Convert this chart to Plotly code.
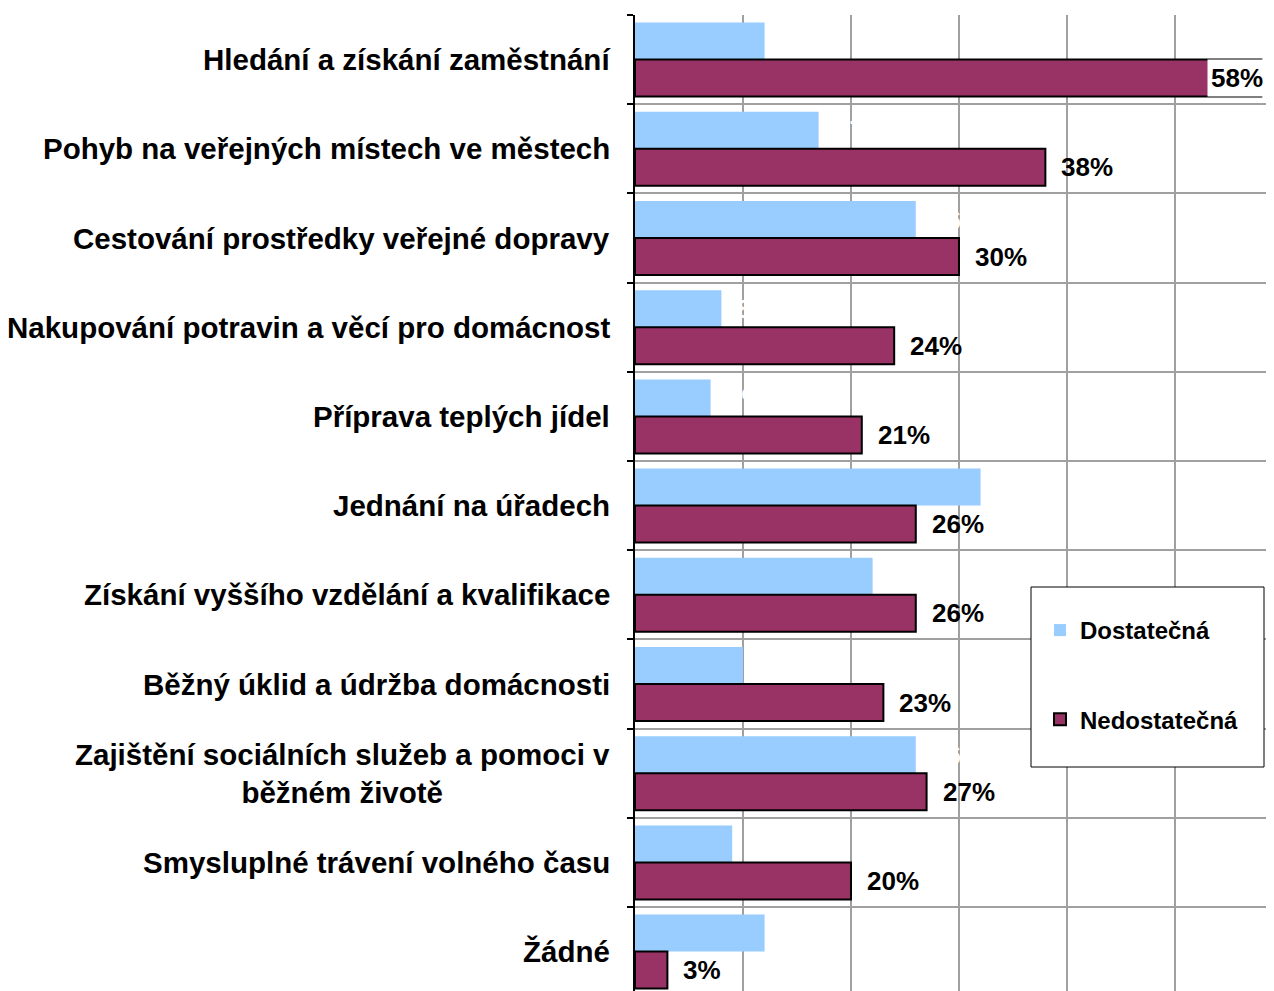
import plotly.graph_objects as go

categories = [
    "Hledání a získání zaměstnání",
    "Pohyb na veřejných místech ve městech",
    "Cestování prostředky veřejné dopravy",
    "Nakupování potravin a věcí pro domácnost",
    "Příprava teplých jídel",
    "Jednání na úřadech",
    "Získání vyššího vzdělání a kvalifikace",
    "Běžný úklid a údržba domácnosti",
    "Zajištění sociálních služeb a pomoci v<br>běžném životě",
    "Smysluplné trávení volného času",
    "Žádné",
]
dostatecna = [12, 17, 26, 8, 7, 32, 22, 10, 26, 9, 12]
nedostatecna = [58, 38, 30, 24, 21, 26, 26, 23, 27, 20, 3]
series_names = ["Dostatečná", "Nedostatečná"]

OFF = 8  # default page body margin
W, H = 1274, 991          # screen size
VIS_R = 1266              # right edge of the visible page area
L, T = 635, 15            # plot area origin on screen
X_MAX = 59.17
BAND = 89.2
Y_BOTTOM = -0.5 + (H - T) / BAND
FONT = "Liberation Sans, Arial, sans-serif"
BLUE = "#99CCFF"
PURPLE = "#993366"

fig = go.Figure()
fig.add_trace(go.Bar(
    y=categories, x=dostatecna, orientation="h", name=series_names[0],
    marker=dict(color=BLUE, line=dict(width=0)), legendgroup="a",
))
fig.add_trace(go.Bar(
    y=categories, x=nedostatecna, orientation="h", name=series_names[1],
    marker=dict(color=PURPLE, line=dict(width=2, color="black")), legendgroup="b",
))

annotations = []
for c in categories:
    annotations.append(dict(
        xref="paper", x=0, yref="y", y=c, xanchor="right", xshift=-23,
        text=c, showarrow=False, align="center",
        font=dict(family=FONT, size=29.5, color="black", weight="bold"),
    ))

plot_w = W - L
plot_h = H - T
px_per_unit = plot_w / X_MAX
label_w = 52
for c, v in zip(categories, dostatecna):
    annotations.append(dict(
        x=v, y=c, xanchor="left", xshift=14, yshift=18.5, text=f"{v}%",
        showarrow=False,
        font=dict(family=FONT, size=26, color="white", weight="bold"),
    ))
for c, v in zip(categories, nedostatecna):
    if L + v * px_per_unit + 14 + label_w > VIS_R:
        annotations.append(dict(
            xref="paper", x=(VIS_R - L) / plot_w, y=c, xanchor="right", xshift=1,
            yshift=-18.5, text=f"{v}%", showarrow=False, bgcolor="white", borderpad=3,
            font=dict(family=FONT, size=26, color="black", weight="bold"),
        ))
    else:
        annotations.append(dict(
            x=v, y=c, xanchor="left", xshift=14, yshift=-18.5, text=f"{v}%",
            showarrow=False,
            font=dict(family=FONT, size=26, color="black", weight="bold"),
        ))

lx0, lx1 = (1031 - L) / plot_w, (VIS_R - 2 - L) / plot_w
ly0, ly1 = (H - 767) / plot_h, (H - 587) / plot_h

fig.update_layout(
    width=W - OFF, height=H - OFF,
    margin=dict(l=L - OFF, r=0, t=T - OFF, b=0, pad=0),
    paper_bgcolor="white", plot_bgcolor="white",
    barmode="group", bargap=0.17, bargroupgap=0,
    showlegend=True,
    legend=dict(
        x=(1040 - L) / plot_w, y=(H - 608) / plot_h, xanchor="left", yanchor="top",
        bgcolor="rgba(0,0,0,0)", borderwidth=0, tracegroupgap=55,
        font=dict(family=FONT, size=24, color="black", weight="bold"),
    ),
    shapes=[dict(
        type="rect", xref="paper", yref="paper", x0=lx0, x1=lx1, y0=ly0, y1=ly1,
        line=dict(color="black", width=1), fillcolor="white", layer="above",
    )],
    annotations=annotations,
    xaxis=dict(
        range=[0, X_MAX], dtick=10, showgrid=True, gridcolor="#A0A0A0", gridwidth=2,
        zeroline=False, showticklabels=False, ticks="", showline=False,
    ),
    yaxis=dict(
        type="category", range=[Y_BOTTOM, -0.5], tickson="boundaries",
        showgrid=True, gridcolor="#A0A0A0", gridwidth=2,
        showline=True, linecolor="black", linewidth=2,
        ticks="outside", ticklen=6, tickcolor="black", tickwidth=1.5,
        showticklabels=False,
    ),
)

fig.write_html("out.html")
